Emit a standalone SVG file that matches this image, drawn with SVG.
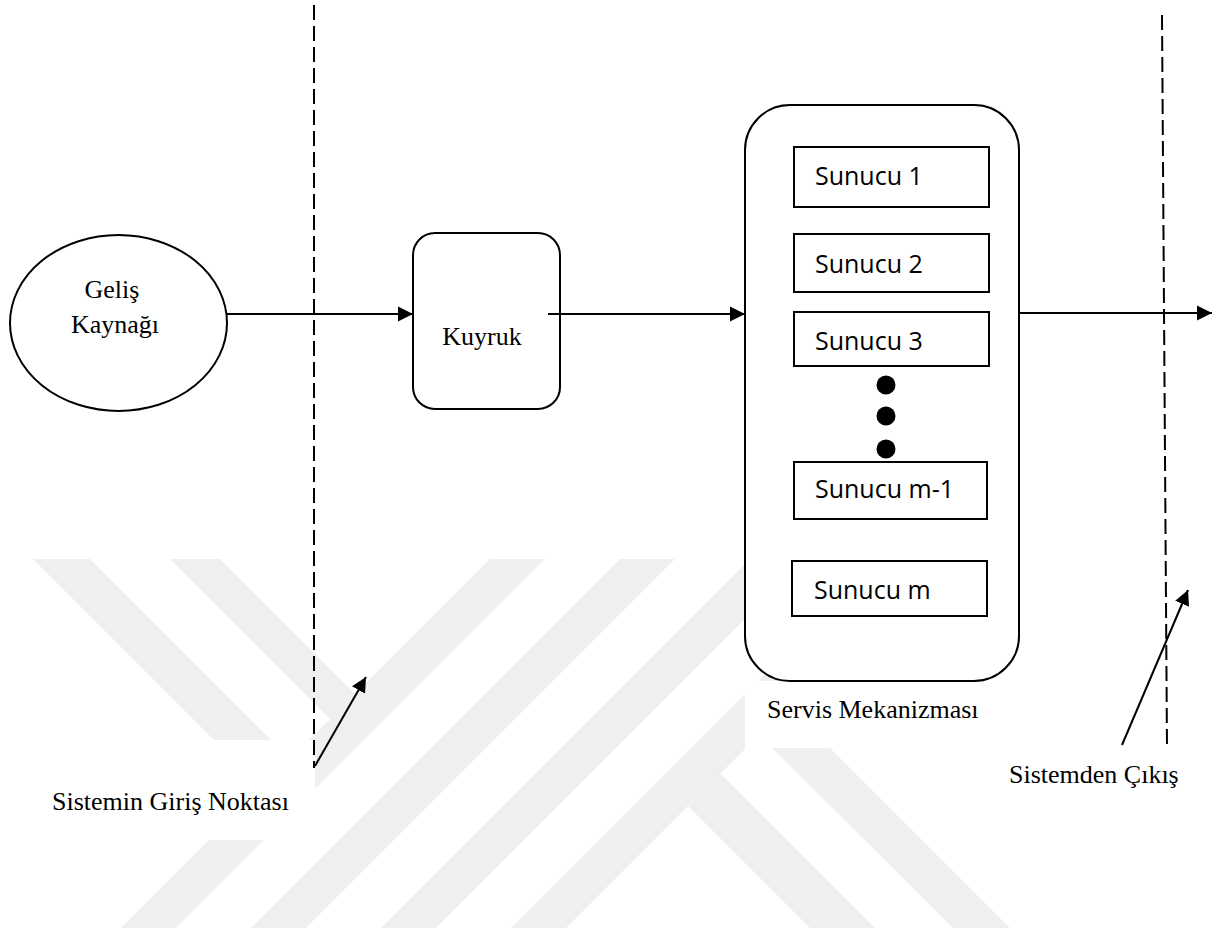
<svg xmlns="http://www.w3.org/2000/svg" width="1223" height="934" viewBox="0 0 1223 934">
  <style>
    .wm { fill: #efefef; stroke: none; }
    .mask { fill: #ffffff; stroke: none; }
    .shape { fill: #ffffff; stroke: #000000; stroke-width: 2; }
    .srv { fill: #ffffff; stroke: #000000; stroke-width: 2; }
    .dash { fill: none; stroke: #000000; stroke-width: 2; stroke-dasharray: 15 6; }
    .conn { fill: none; stroke: #000000; stroke-width: 2; }
    .serif { font-family: "Liberation Serif", "Times New Roman", serif; font-size: 26px; fill: #000000; }
    .sans { font-family: "Open Sans", "Noto Sans", sans-serif; font-size: 25px; fill: #000000; }
  </style>
  <defs>
    <marker id="arrow" markerUnits="userSpaceOnUse" markerWidth="16" markerHeight="16" viewBox="0 0 16 16" refX="15" refY="8" orient="auto">
      <path d="M0,0.5 L15,8 L0,15.5 z" fill="#000000"/>
    </marker>
  </defs>

  <rect x="0" y="0" width="1223" height="934" fill="#ffffff"/>

  <!-- faint watermark -->
  <g id="watermark">
    <polygon class="wm" points="33,559 90,559 290,759 289,815"/>
    <polygon class="wm" points="170,559 220,559 355,694 330,719"/>
    <polygon class="wm" points="490,559 545,559 176,928 121,928"/>
    <polygon class="wm" points="620,559 675,559 306,928 251,928"/>
    <polygon class="wm" points="750,559 805,559 436,928 381,928"/>
    <polygon class="wm" points="880,559 935,559 566,928 511,928"/>
    <polygon class="wm" points="688,806 720,773 875,928 810,928"/>
    <polygon class="wm" points="759,735 788,706 1010,928 953,928"/>
  </g>
  <g id="label-backgrounds">
    <rect class="mask" x="0" y="740" width="315" height="100"/>
    <rect class="mask" x="745" y="681" width="255" height="67"/>
  </g>

  <!-- system boundaries -->
  <g id="boundaries">
    <line class="dash" x1="314" y1="5" x2="314" y2="768"/>
    <line class="dash" x1="1162" y1="15" x2="1167" y2="748"/>
  </g>

  <g id="gelis-kaynagi">
    <ellipse class="shape" cx="118.5" cy="323" rx="108.5" ry="88"/>
    <text class="serif" x="112" y="298" text-anchor="middle">Geliş</text>
    <text class="serif" x="115" y="333" text-anchor="middle">Kaynağı</text>
  </g>

  <g id="kuyruk">
    <rect class="shape" x="413" y="233" width="147" height="176" rx="22" ry="22"/>
    <text class="serif" x="482" y="345" text-anchor="middle">Kuyruk</text>
  </g>

  <g id="servis-mekanizmasi">
    <rect class="shape" x="745" y="105" width="274" height="576" rx="45" ry="45"/>
  </g>

  <g id="sunucu-1">
    <rect class="srv" x="794" y="147" width="195" height="60"/>
    <text class="sans" x="815" y="185">Sunucu 1</text>
  </g>
  <g id="sunucu-2">
    <rect class="srv" x="794" y="234" width="195" height="58"/>
    <text class="sans" x="815" y="273">Sunucu 2</text>
  </g>
  <g id="sunucu-3">
    <rect class="srv" x="794" y="312" width="195" height="54"/>
    <text class="sans" x="815" y="350">Sunucu 3</text>
  </g>
  <g id="ellipsis-dots">
    <circle cx="886" cy="385" r="9.5" fill="#000000"/>
    <circle cx="886" cy="416" r="9.5" fill="#000000"/>
    <circle cx="886" cy="449" r="9.5" fill="#000000"/>
  </g>
  <g id="sunucu-m-1">
    <rect class="srv" x="794" y="462" width="193" height="57"/>
    <text class="sans" x="815" y="498">Sunucu m-1</text>
  </g>
  <g id="sunucu-m">
    <rect class="srv" x="792" y="561" width="195" height="55"/>
    <text class="sans" x="814" y="599">Sunucu m</text>
  </g>

  <g id="labels">
    <text class="serif" x="767" y="718">Servis Mekanizması</text>
    <text class="serif" x="52" y="810">Sistemin Giriş Noktası</text>
    <text class="serif" x="1009" y="783">Sistemden Çıkış</text>
  </g>

  <g id="connectors">
    <line class="conn" x1="227" y1="314" x2="413" y2="314" marker-end="url(#arrow)"/>
    <line class="conn" x1="548" y1="314" x2="745" y2="314" marker-end="url(#arrow)"/>
    <line class="conn" x1="1020" y1="313" x2="1212" y2="313" marker-end="url(#arrow)"/>
    <line class="conn" x1="315" y1="766" x2="366" y2="677" marker-end="url(#arrow)"/>
    <line class="conn" x1="1122" y1="745" x2="1188" y2="590" marker-end="url(#arrow)"/>
  </g>
</svg>
